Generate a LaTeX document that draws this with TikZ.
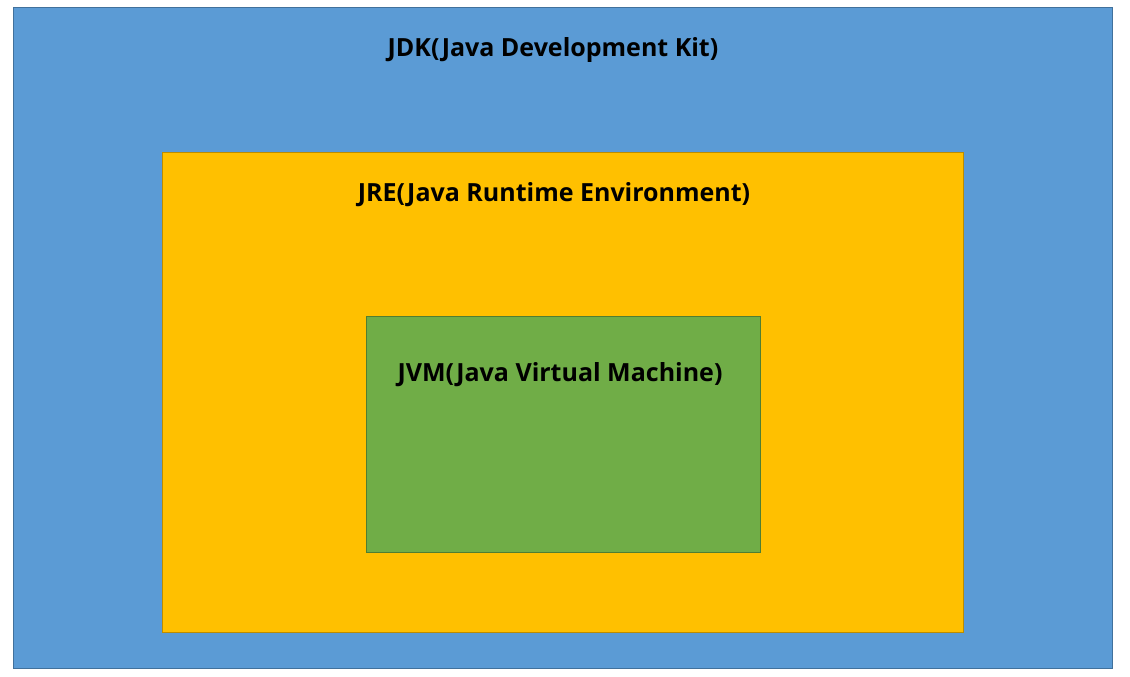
\documentclass[tikz,border=0pt]{standalone}
\usepackage{fontspec}
\setmainfont{Open Sans}
\definecolor{jdkfill}{HTML}{5B9BD5}
\definecolor{jdkline}{HTML}{41719C}
\definecolor{jrefill}{HTML}{FFC000}
\definecolor{jreline}{HTML}{BC8C00}
\definecolor{jvmfill}{HTML}{70AD47}
\definecolor{jvmline}{HTML}{507E32}
\begin{document}
\begin{tikzpicture}[x=1pt,y=-1pt,
  box/.style={line width=1pt},
  lbl/.style={font=\fontsize{25}{28}\selectfont\bfseries, text=black, inner sep=0pt, anchor=center}]
\useasboundingbox (0,0) rectangle (1130,677);
\fill[white] (0,0) rectangle (1130,677);
\draw[box, fill=jdkfill, draw=jdkline] (13,8) rectangle (1112,668);
\draw[box, fill=jrefill, draw=jreline] (162,152) rectangle (963,632);
\draw[box, fill=jvmfill, draw=jvmline] (366,316) rectangle (760,552);
\node[lbl] (jdk) at (553,50) {JDK(Java Development Kit)};
\node[lbl] (jre) at (554,195) {JRE(Java Runtime Environment)};
\node[lbl] (jvm) at (560,375) {JVM(Java Virtual Machine)};
\end{tikzpicture}
\end{document}
